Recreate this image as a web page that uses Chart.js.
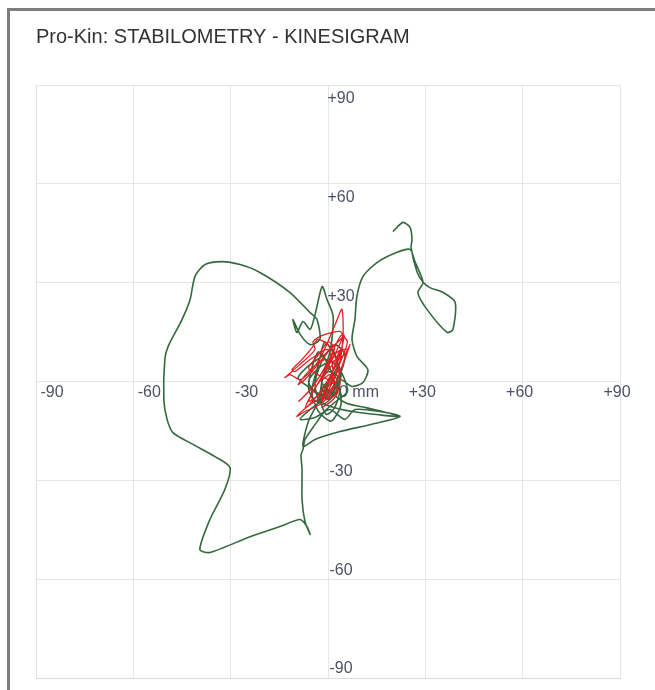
<!DOCTYPE html>
<html>
<head>
<meta charset="utf-8">
<script src="https://cdn.jsdelivr.net/npm/chart.js@4"></script>
<style>
  html, body { margin: 0; padding: 0; background: #fff; }
  #wrap { position: relative; width: 655px; height: 690px; }
  #frame {
    position: absolute; left: 7px; top: 8px; right: 0; bottom: 0;
    border-top: 3px solid #7d7d7d; border-left: 3px solid #7d7d7d;
  }
  #chart { position: absolute; left: 0; top: 0; }
</style>
</head>
<body>
<div id="wrap">
  <div id="frame"></div>
  <canvas id="chart" width="655" height="690"></canvas>
</div>
<script>
const TITLE = "Pro-Kin: STABILOMETRY - KINESIGRAM";

const xTickValues = [-90, -60, -30, 30, 60, 90];
const xTickLabels = ["-90", "-60", "-30", "+30", "+60", "+90"];
const yTickValues = [90, 60, 30, -30, -60, -90];
const yTickLabels = ["+90", "+60", "+30", "-30", "-60", "-90"];
const originLabel = "0 mm";

// green trace (mm)
const greenX = [
  20.0, 23.1, 25.3, 25.9, 25.6, 27.4, 29.3, 31.4, 35.5, 39.2, 38.5, 36.7, 30.5, 27.7, 29.3, 26.8, 25.3, 21.3, 15.1, 10.8, 8.9, 8.3, 7.4,
  8.9, 12.3, 10.8, 7.4, 3.7,
  0.6, -2.5, -7.1, -9.2, -5.5, -0.9, 2.2, 5.2, 3.7, -0.9, -5.5, -8.6, -4.0, 0.6, 5.2, 8.3, 16.0, 22.2, 12.9, 3.7, -4.0, -7.7,
  -6.0, -3.0, -1.5, 0.6, 1.5, 1.5, -0.3, -1.8, -4.0, -5.5, -7.7, -9.6, -10.8, -8.6, -5.5, -2.5, -3.4, -5.5,
  -11.7, -21.0, -27.1, -32.7, -37.9, -41.0, -42.5, -45.0, -49.3, -50.3, -50.6, -49.6, -47.8, -41.6, -34.8, -30.2, -31.8, -36.4, -39.5, -36.4,
  -24.0, -14.8, -8.6, -6.5, -5.5, -7.1, -8.0, -8.0, -8.3, -7.7, -7.1, -4.0,
  -1.0, 2.5, 6.0, 4.0, 1.0, -3.0, -6.0, -3.0, 1.5, 3.0, 0.0, -2.0, 0.5, 5.5, 12.0, 22.2, 10.0, 2.0, -2.0, 0.0,
  -1.0, 3.0, 1.0, -2.0, -4.0, -2.0, 2.0, 4.0, 2.0, -1.0, -3.0, -5.0, -3.0, 1.0, 4.0, 3.0, 0.0, -2.0, 0.0, 2.0,
  1.0, -1.0, -3.0, -5.0, -6.0, -4.0, -1.0, 1.0, 3.5, 2.0, -0.5, -2.5, -1.0, 0.5
];
const greenY = [
  45.5, 48.3, 46.8, 43.1, 40.7, 33.4, 30.1, 28.5, 27.0, 24.0, 15.8, 14.9, 21.9, 27.0, 30.1, 36.4, 40.1, 39.2, 36.1, 31.9, 25.8, 18.8, 12.8,
  7.6, 3.6, -0.3, -1.5, 0.6,
  -5.5, -3.9, -0.9, 1.2, 5.2, 8.2, 11.2, 8.2, 2.1, -4.9, -8.5, -11.5, -10.9, -8.5, -11.5, -8.5, -9.1, -10.6, -13.1, -15.2, -17.6, -19.7,
  -12.0, -6.0, 2.0, 9.0, 15.8, 20.3, 24.9, 28.8, 20.3, 15.8, 18.2, 14.9, 18.8, 14.3, 11.2, 12.8, 18.8, 20.9,
  27.0, 33.1, 35.5, 36.4, 35.5, 31.9, 24.9, 18.8, 10.6, 6.7, -5.5, -11.5, -15.5, -19.1, -22.8, -26.1, -32.8, -41.9, -51.0, -51.9,
  -47.1, -44.0, -41.9, -44.0, -46.4, -42.5, -35.8, -26.7, -22.2, -20.6, -17.6, -13.1,
  -9.0, -6.0, -3.0, 3.0, 6.0, 4.0, 0.0, -4.0, -2.0, 1.5, 3.0, 0.0, -3.0, -6.5, -8.0, -10.6, -9.5, -8.0, -6.0, -1.0,
  -2.0, 5.0, 10.0, 6.0, -1.0, -7.0, -4.0, 2.0, 8.0, 12.0, 5.0, -3.0, -9.0, -12.0, -7.0, 0.0, 4.0, -1.0, -5.0, -2.0,
  3.0, 7.0, 9.0, 4.0, -2.0, -6.0, -4.0, 1.0, -3.0, -8.0, -10.0, -5.0, -1.0, 0.0
];

// red trace (mm)
const redX = [
  0.6, 3.1, 4.6, 4.3, 2.2, -1.8, -5.5, -8.6, -11.7, -13.3, -8.6, -4.0, -4.6, -0.9, 3.7, 4.6, 0.6, -3.1, -7.1, -9.2,
  -5.5, -0.9, 1.5, 5.2, 6.8, 5.2, 3.1, 0.6, -2.5, -7.1, -9.6, -5.5, -0.9, 2.2, 0.6, -1.8, 0.0, 3.1, 5.9, 3.7,
  1.5, -0.6, 2.2, 3.7, 2.5, 0.0, -3.1, -4.9, -8.0, -11.1, -10.2, -5.5, 0.0, 1.5, 0.6,
  -6.0, 2.0, 5.0, 3.0, -3.0, -7.0, -4.0, 2.0, 4.0, 1.0, -2.0, 0.0, 3.0, 6.0, 4.0, 0.0, -5.0, -9.0, -6.0, -1.0,
  2.0, 0.0, -3.0, -6.0, -3.0, 1.0, 3.0, 1.0, -2.0
];
const redY = [
  -1.8, 3.6, 12.8, 21.9, 17.3, 8.2, 3.0, 0.6, 2.1, 1.2, 5.2, 9.7, 12.1, 14.3, 15.2, 13.7, 9.7, 5.2, 0.6, -0.9,
  3.6, 6.7, 6.1, 8.2, 11.2, 6.7, 1.2, -3.9, -7.0, -9.1, -10.6, -7.0, -3.9, -0.9, 2.1, 0.6, 5.2, 9.1, 9.7, 3.0,
  -2.4, -5.5, -3.9, -0.9, 6.7, 11.2, 12.8, 10.3, 6.7, 3.6, 3.0, 6.7, 9.7, 3.6, -0.9,
  -6.0, 8.0, 14.0, 6.0, -4.0, -8.0, -2.0, 6.0, 10.0, 2.0, -6.0, -3.0, 4.0, 12.0, 14.0, 6.0, -2.0, -6.0, -3.0, 4.0,
  10.0, 12.0, 8.0, 4.0, 2.0, 0.0, -3.0, -6.0, -8.0
];

function toPoints(xs, ys) {
  return xs.map((x, i) => ({ x: x, y: ys[i] }));
}

// tick labels sit inside the plot, along the two axes
const axisLabels = {
  id: "axisLabels",
  beforeDatasetsDraw(chart) {
    const ctx = chart.ctx;
    const xs = chart.scales.x;
    const ys = chart.scales.y;
    const x0 = xs.getPixelForValue(0);
    const y0 = ys.getPixelForValue(0);
    ctx.save();
    ctx.font = "16px 'Liberation Sans', Arial, sans-serif";
    ctx.fillStyle = "#4d5263";
    ctx.textBaseline = "middle";
    ctx.textAlign = "center";
    xTickValues.forEach((v, i) => {
      const px = xs.getPixelForValue(v) + (v < 0 ? 16 : -3);
      ctx.fillText(xTickLabels[i], px, y0 + 11);
    });
    yTickValues.forEach((v, i) => {
      const py = ys.getPixelForValue(v) + (v > 0 ? 14 : -9);
      ctx.fillText(yTickLabels[i], x0 + 13, py);
    });
    ctx.textAlign = "left";
    ctx.fillText(originLabel, x0 + 11, y0 + 11);
    ctx.restore();
  }
};

const chart = new Chart(document.getElementById("chart"), {
  type: "scatter",
  data: {
    datasets: [
      {
        label: "red",
        data: toPoints(redX, redY),
        showLine: true,
        borderColor: "rgb(226, 32, 36)",
        borderWidth: 1.3,
        pointRadius: 0,
        tension: 0.25
      },
      {
        label: "green",
        data: toPoints(greenX, greenY),
        showLine: true,
        borderColor: "rgb(52, 104, 62)",
        borderWidth: 1.6,
        pointRadius: 0,
        tension: 0.25
      }
    ]
  },
  options: {
    responsive: false,
    animation: false,
    layout: { padding: { left: 36, right: 35, top: 0, bottom: 12 } },
    plugins: {
      legend: { display: false },
      tooltip: { enabled: false },
      title: {
        display: true,
        text: TITLE,
        align: "start",
        color: "#333333",
        font: { family: "'Liberation Sans', Arial, sans-serif", size: 20, weight: "normal" },
        padding: { top: 25, bottom: 36 }
      }
    },
    scales: {
      x: {
        type: "linear",
        min: -90,
        max: 90,
        ticks: { display: false, stepSize: 30 },
        grid: { color: "#e6e6e6", drawTicks: false },
        border: { display: true, color: "#dcdcdc" }
      },
      y: {
        type: "linear",
        min: -90,
        max: 90,
        ticks: { display: false, stepSize: 30 },
        grid: { color: "#e6e6e6", drawTicks: false },
        border: { display: true, color: "#dcdcdc" }
      }
    }
  },
  plugins: [axisLabels]
});
</script>
</body>
</html>
